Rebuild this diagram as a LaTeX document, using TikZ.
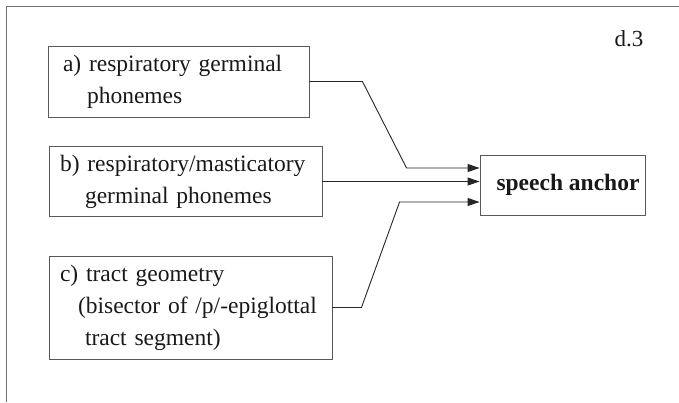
\documentclass[tikz,border=0pt]{standalone}
\usepackage{fontspec}
\setmainfont{Liberation Serif}
\usetikzlibrary{positioning,arrows.meta}

\tikzset{
  box/.style={draw=black!65, line width=0.9pt, align=left, inner xsep=0pt, inner ysep=0pt,
    font=\fontsize{23.5}{32}\selectfont, text=black!90},
  arr/.style={draw=black!85, line width=0.9pt, -{Triangle[length=12pt,width=8pt]}},
  line/.style={draw=black!85, line width=0.9pt}
}

\begin{document}
\begin{tikzpicture}[x=1pt, y=-1pt]
  \useasboundingbox (0,0) rectangle (679,402);
  % Frame
  \draw[draw=black!55, line width=1.4pt] (6.5,402) -- (6.5,6.5) -- (679,6.5);

  % Nodes
  \node (label) [font=\fontsize{23}{28}\selectfont, text=black!90] at (629,39) {d.3};
  \node (a) [box, minimum width=261pt, minimum height=71pt, text width=231pt] at (178.5,81.5)
    {a) respiratory germinal\\\hspace*{24pt}phonemes};
  \node (b) [box, minimum width=273pt, minimum height=70pt, text width=251pt] at (185.5,181.5)
    {b) respiratory/masticatory\\\hspace*{25pt}germinal phonemes};
  \node (c) [box, minimum width=283pt, minimum height=103pt, text width=261pt] at (190.5,307.5)
    {c) tract geometry\\\hspace*{18pt}(bisector of /p/-epiglottal\\\hspace*{25pt}tract segment)};
  \node (anchor) [box, align=center, minimum width=165pt, minimum height=60pt,
    font=\fontsize{23.5}{28}\selectfont\bfseries] at (562.5,185) {\hspace*{11pt}speech anchor};

  \coordinate (in1) at ([yshift=17pt]anchor.west);
  \coordinate (in3) at ([yshift=-17pt]anchor.west);

  % Arrows
  \draw[arr] (a.east) -- ++(53,0) -- ([xshift=-73pt]in1) -- (in1);
  \draw[arr] (b.east) -- (b.east -| anchor.west);
  \draw[arr] (c.east) -- ++(29,0) -- ([xshift=-80pt]in3) -- (in3);
\end{tikzpicture}
\end{document}
